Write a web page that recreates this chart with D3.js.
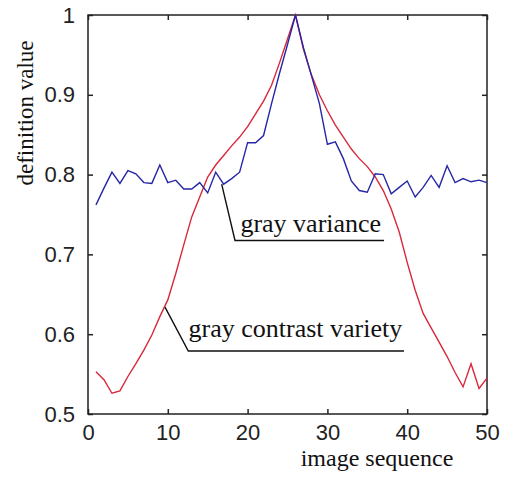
<!DOCTYPE html>
<html>
<head>
<meta charset="utf-8">
<script src="https://cdn.jsdelivr.net/npm/d3@7"></script>
<style>
  html, body { margin: 0; padding: 0; background: #fff; }
  svg { display: block; }
  .tick text { font-family: "Liberation Sans", Arial, sans-serif; font-size: 22px; fill: #222; }
  .lbl { font-family: "Liberation Serif", "Times New Roman", serif; font-size: 26px; fill: #111; }
</style>
</head>
<body>
<svg width="506" height="477"></svg>
<script>
// image index 1..50
const imageSeq = d3.range(1, 51);

const grayVariance = [
  0.762, 0.783, 0.803, 0.789, 0.805, 0.801, 0.790, 0.789, 0.812, 0.790,
  0.793, 0.782, 0.782, 0.790, 0.777, 0.803, 0.788, 0.795, 0.803, 0.840,
  0.840, 0.849, 0.889, 0.927, 0.963, 1.000, 0.959, 0.924, 0.889, 0.838,
  0.841, 0.820, 0.792, 0.780, 0.778, 0.801, 0.800, 0.776, 0.784, 0.792,
  0.772, 0.784, 0.799, 0.784, 0.811, 0.790, 0.795, 0.791, 0.793, 0.790
];

const grayContrast = [
  0.553, 0.543, 0.526, 0.529, 0.547, 0.563, 0.580, 0.599, 0.622, 0.643,
  0.676, 0.712, 0.747, 0.772, 0.797, 0.812, 0.824, 0.836, 0.847, 0.860,
  0.876, 0.892, 0.912, 0.940, 0.970, 1.000, 0.957, 0.925, 0.900, 0.880,
  0.862, 0.847, 0.832, 0.820, 0.810, 0.797, 0.780, 0.757, 0.728, 0.690,
  0.655, 0.626, 0.608, 0.590, 0.572, 0.552, 0.534, 0.563, 0.532, 0.545
];

const xTicks = [0, 10, 20, 30, 40, 50];
const yTicks = [0.5, 0.6, 0.7, 0.8, 0.9, 1];
const yTickLabels = ["0.5", "0.6", "0.7", "0.8", "0.9", "1"];

const svg = d3.select("svg");
const mLeft = 88, mRight = 487, mTop = 15, mBottom = 414;

const x = d3.scaleLinear().domain([0, 50]).range([mLeft, mRight]);
const y = d3.scaleLinear().domain([0.5, 1]).range([mBottom, mTop]);

// axes, matlab style box with inward ticks
function styleAxis(g) {
  g.select(".domain").remove();
  g.selectAll(".tick line").attr("stroke", "#222").attr("stroke-width", 1.5);
}

svg.append("g")
  .attr("transform", `translate(0,${mBottom})`)
  .call(d3.axisBottom(x).tickValues(xTicks).tickSize(-5).tickPadding(10))
  .call(styleAxis);

svg.append("g")
  .attr("transform", `translate(0,${mTop})`)
  .call(d3.axisTop(x).tickValues(xTicks).tickSize(-5).tickFormat(""))
  .call(styleAxis);

svg.append("g")
  .attr("transform", `translate(${mLeft},0)`)
  .call(d3.axisLeft(y).tickValues(yTicks).tickSize(-5).tickPadding(13)
    .tickFormat((d, i) => yTickLabels[i]))
  .call(styleAxis);

svg.append("g")
  .attr("transform", `translate(${mRight},0)`)
  .call(d3.axisRight(y).tickValues(yTicks).tickSize(-5).tickFormat(""))
  .call(styleAxis);

svg.append("rect")
  .attr("x", mLeft).attr("y", mTop)
  .attr("width", mRight - mLeft).attr("height", mBottom - mTop)
  .attr("fill", "none").attr("stroke", "#222").attr("stroke-width", 1.5);

// curves
const line = d3.line()
  .x((d, i) => x(imageSeq[i]))
  .y(d => y(d));

svg.append("path")
  .datum(grayContrast)
  .attr("d", line)
  .attr("fill", "none")
  .attr("stroke", "#d8283c")
  .attr("stroke-width", 1.4);

svg.append("path")
  .datum(grayVariance)
  .attr("d", line)
  .attr("fill", "none")
  .attr("stroke", "#2626a6")
  .attr("stroke-width", 1.4);

// annotations (in data coords)
const notes = [
  { text: "gray variance", pts: [[16.75, 0.788], [18.42, 0.7175], [37.1, 0.7175]], tx: 19.1, ty: 0.728 },
  { text: "gray contrast variety", pts: [[9.65, 0.634], [12.57, 0.579], [39.6, 0.579]], tx: 12.6, ty: 0.5966 }
];

notes.forEach(n => {
  svg.append("path")
    .attr("d", d3.line().x(p => x(p[0])).y(p => y(p[1]))(n.pts))
    .attr("fill", "none")
    .attr("stroke", "#111")
    .attr("stroke-width", 1.4);
  svg.append("text")
    .attr("class", "lbl")
    .attr("x", x(n.tx))
    .attr("y", y(n.ty))
    .text(n.text);
});

// axis titles
svg.append("text")
  .attr("class", "lbl")
  .attr("x", 377).attr("y", 466)
  .attr("text-anchor", "middle")
  .style("font-size", "24px")
  .text("image sequence");

svg.append("text")
  .attr("class", "lbl")
  .attr("transform", "translate(33,113) rotate(-90)")
  .attr("text-anchor", "middle")
  .style("font-size", "23px")
  .text("definition value");
</script>
</body>
</html>
